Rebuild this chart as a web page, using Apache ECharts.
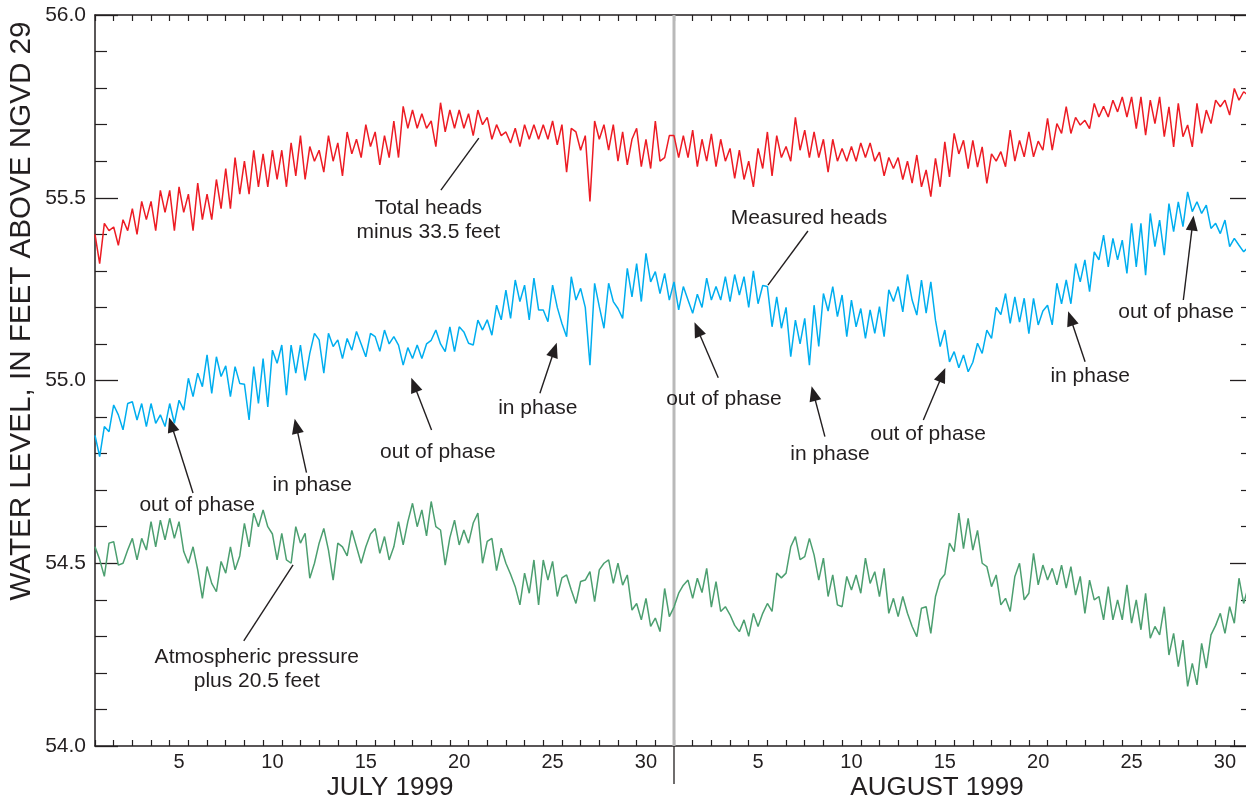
<!DOCTYPE html>
<html><head><meta charset="utf-8">
<script src="https://cdn.jsdelivr.net/npm/echarts@6/dist/echarts.min.js"></script>
<style>html,body{margin:0;padding:0;background:#fff}#c{width:1246px;height:802px}</style>
</head><body><div id="c"></div>
<script>
// time axis: days since 1 July 1999 00:00; samples every 6 hours
const STEP = 0.25;
const JULY_DAYS = 31;
const TOTAL_DAYS = 62;

const redJuly = [55.40,55.32,55.43,55.41, 55.42,55.37,55.44,55.41, 55.47,55.40,55.49,55.44, 55.49,55.41,55.52,55.46, 55.52,55.41,55.53,55.46, 55.51,55.41,55.54,55.44, 55.51,55.44,55.55,55.47, 55.58,55.47,55.61,55.51, 55.60,55.51,55.63,55.53, 55.62,55.53,55.63,55.55, 55.63,55.53,55.65,55.56, 55.67,55.55,55.64,55.60, 55.63,55.57,55.67,55.60, 55.65,55.56,55.68,55.62, 55.66,55.61,55.70,55.64, 55.68,55.59,55.67,55.61, 55.71,55.61,55.75,55.69, 55.74,55.69,55.73,55.69, 55.71,55.64,55.76,55.68, 55.74,55.69,55.74,55.69, 55.73,55.67,55.74,55.70, 55.72,55.66,55.70,55.67, 55.68,55.65,55.69,55.64, 55.70,55.66,55.70,55.66, 55.70,55.66,55.71,55.645, 55.70,55.57,55.69,55.68, 55.63,55.67,55.49,55.71, 55.66,55.70,55.63,55.70, 55.60,55.68,55.59,55.66, 55.69,55.585,55.66,55.58, 55.71,55.60,55.61,55.67];
const redAug = [55.67,55.61,55.67,55.61, 55.685,55.585,55.66,55.60, 55.675,55.585,55.66,55.60, 55.635,55.553,55.63,55.55, 55.60,55.53,55.635,55.58, 55.68,55.56,55.67,55.61, 55.64,55.60,55.72,55.63, 55.685,55.61,55.68,55.61, 55.66,55.57,55.66,55.60, 55.635,55.60,55.64,55.60, 55.65,55.61,55.65,55.60, 55.625,55.56,55.61,55.58, 55.61,55.55,55.60,55.54, 55.617,55.53,55.576,55.503, 55.608,55.53,55.653,55.557, 55.676,55.62,55.657,55.58, 55.657,55.584,55.639,55.539, 55.62,55.60,55.626,55.585, 55.685,55.60,55.657,55.612, 55.68,55.612,55.655,55.63, 55.717,55.63,55.703,55.676, 55.749,55.676,55.72,55.699, 55.712,55.689,55.758,55.721, 55.75,55.721,55.767,55.735, 55.776,55.721,55.776,55.689, 55.776,55.671,55.767,55.703, 55.776,55.667,55.749,55.639, 55.758,55.667,55.699,55.639, 55.758,55.676,55.74,55.703, 55.767,55.749,55.767,55.726, 55.799,55.767,55.79,55.78];

const blueJuly = [54.85,54.792,54.874,54.86, 54.933,54.906,54.865,54.937, 54.942,54.892,54.937,54.874, 54.937,54.883,54.906,54.874, 54.937,54.883,54.946,54.919, 55.006,54.956,55.02,54.983, 55.07,54.965,55.065,55.011, 55.04,54.956,55.038,54.992, 54.99,54.892,55.038,54.937, 55.06,54.928,55.083,55.047, 55.097,54.96,55.097,55.02, 55.097,55.0,55.074,55.129, 55.111,55.02,55.129,55.093, 55.111,55.06,55.115,55.083, 55.134,55.10,55.065,55.129, 55.12,55.08,55.138,55.10, 55.12,55.097,55.042,55.09, 55.06,55.097,55.06,55.10, 55.11,55.138,55.10,55.079, 55.147,55.079,55.147,55.133, 55.102,55.097,55.165,55.138, 55.166,55.124,55.206,55.166, 55.247,55.17,55.275,55.216, 55.261,55.166,55.28,55.193, 55.193,55.161,55.261,55.20, 55.156,55.12,55.284,55.22, 55.252,55.20,55.042,55.266, 55.202,55.143,55.266,55.216, 55.197,55.17,55.307,55.229, 55.32,55.216,55.348,55.27, 55.298,55.238,55.293,55.22];
const blueAug = [55.27,55.193,55.257,55.22, 55.184,55.236,55.20,55.28, 55.22,55.257,55.22,55.284, 55.216,55.29,55.234,55.284, 55.20,55.30,55.21,55.26, 55.257,55.147,55.229,55.143, 55.20,55.065,55.165,55.10, 55.17,55.042,55.206,55.093, 55.238,55.19,55.257,55.175, 55.234,55.12,55.22,55.147, 55.197,55.115,55.193,55.129, 55.202,55.12,55.248,55.216, 55.257,55.188,55.29,55.22, 55.179,55.275,55.184,55.27, 55.165,55.093,55.138,55.051, 55.079,55.035,55.07,55.024, 55.05,55.102,55.074,55.138, 55.115,55.20,55.18,55.238, 55.156,55.229,55.16,55.225, 55.128,55.225,55.152,55.19, 55.206,55.152,55.266,55.21, 55.275,55.21,55.32,55.27, 55.33,55.243,55.352,55.33, 55.398,55.311,55.389,55.33, 55.384,55.293,55.43,55.311, 55.43,55.288,55.457,55.366, 55.439,55.343,55.484,55.407, 55.489,55.421,55.516,55.462, 55.489,55.457,55.48,55.416, 55.43,55.402,55.439,55.366, 55.389,55.37,55.352,55.366];

const greenJuly = [54.545,54.51,54.464,54.555, 54.559,54.495,54.50,54.536, 54.568,54.509,54.568,54.536, 54.614,54.545,54.618,54.564, 54.623,54.568,54.614,54.532, 54.50,54.545,54.482,54.404, 54.491,54.445,54.422,54.505, 54.473,54.545,54.482,54.52, 54.609,54.545,54.637,54.60, 54.646,54.60,54.58,54.509, 54.582,54.509,54.50,54.60, 54.555,54.582,54.459,54.50, 54.555,54.595,54.536,54.454, 54.555,54.545,54.52,54.59, 54.545,54.50,54.545,54.58, 54.595,54.527,54.573,54.509, 54.545,54.614,54.55,54.614, 54.664,54.60,54.646,54.575, 54.669,54.60,54.591,54.495, 54.57,54.618,54.55,54.591, 54.555,54.61,54.637,54.50, 54.56,54.568,54.48,54.541, 54.50,54.47,54.436,54.386, 54.473,54.418,54.509,54.386, 54.509,54.454,54.505,54.409, 54.46,54.468,54.427,54.39, 54.45,54.454,54.477,54.395, 54.482,54.50,54.509,54.445, 54.50,54.44,54.468,54.372, 54.39,54.345,54.404,54.327, 54.35,54.313,54.431,54.354];
const greenAug = [54.38,54.418,54.44,54.454, 54.404,54.459,54.42,54.486, 54.38,54.45,54.368,54.381, 54.359,54.33,54.313,54.345, 54.30,54.363,54.327,54.363, 54.39,54.368,54.473,54.46, 54.473,54.545,54.573,54.51, 54.518,54.568,54.523,54.454, 54.514,54.409,54.468,54.386, 54.381,54.464,54.427,54.468, 54.418,54.514,54.445,54.477, 54.409,54.486,54.363,54.404, 54.354,54.409,54.363,54.327, 54.299,54.377,54.381,54.308, 54.409,54.454,54.47,54.555, 54.532,54.637,54.54,54.623, 54.536,54.59,54.50,54.491, 54.436,54.468,54.386,54.404, 54.368,54.464,54.50,54.40, 54.418,54.527,54.441,54.495, 54.454,54.486,54.441,54.495, 54.432,54.491,54.413,54.464, 54.363,54.454,54.40,54.409, 54.345,54.436,54.345,54.40, 54.345,54.441,54.336,54.40, 54.318,54.418,54.295,54.327, 54.304,54.381,54.249,54.308, 54.217,54.29,54.163,54.226, 54.167,54.281,54.213,54.304, 54.33,54.363,54.308,54.381, 54.336,54.459,54.39,54.436];

const dayLabels = [5, 10, 15, 20, 25, 30];
const yTicks = [54.0, 54.5, 55.0, 55.5, 56.0];
const monthLabels = ['JULY 1999', 'AUGUST 1999'];
const yTitle = 'WATER LEVEL, IN FEET ABOVE NGVD 29';

// annotation text anchors and leader lines, in data coordinates [day, feet]
const annotations = [
  {text:'Total heads\nminus 33.5 feet', at:[17.85,55.439], from:[18.52,55.521], to:[20.55,55.663], arrow:false},
  {text:'Measured heads', at:[38.23,55.444], from:[38.17,55.409], to:[36.03,55.261], arrow:false},
  {text:'Atmospheric pressure\nplus 20.5 feet', at:[8.66,54.2095], from:[7.965,54.2875], to:[10.605,54.4954], arrow:false},
  {text:'out of phase', at:[5.474,54.6595], from:[5.249,54.6923], to:[4.087,54.8794], arrow:true},
  {text:'in phase', at:[11.634,54.7142], from:[11.323,54.7478], to:[10.777,54.8753], arrow:true},
  {text:'out of phase', at:[18.356,54.8044], from:[18.02,54.8646], to:[17.08,54.9882], arrow:true},
  {text:'in phase', at:[23.71,54.9248], from:[23.82,54.965], to:[24.595,55.0837], arrow:true},
  {text:'out of phase', at:[33.675,54.9494], from:[33.37,55.0077], to:[32.255,55.1403], arrow:true},
  {text:'in phase', at:[39.35,54.799], from:[39.08,54.8463], to:[38.47,54.9644], arrow:true},
  {text:'out of phase', at:[44.6,54.8537], from:[44.35,54.892], to:[45.37,55.0156], arrow:true},
  {text:'in phase', at:[53.28,55.0123], from:[53.01,55.0514], to:[52.23,55.1701], arrow:true},
  {text:'out of phase', at:[57.88,55.1874], from:[58.27,55.2202], to:[58.77,55.4308], arrow:true}
];

const INK = '#231f20';
const FONT = '"Liberation Sans", Arial, Helvetica, sans-serif';
const ARROW = 'path://M6,0 L12,16 L0,16 Z';
const build = (a, b) => a.concat(b).map((v, i) => [i * STEP, v]);
const labelVals = dayLabels.map(d => d - 0.5).concat(dayLabels.map(d => JULY_DAYS + d - 0.5));
const yMin = yTicks[0], yMax = yTicks[yTicks.length - 1], yInt = yTicks[1] - yTicks[0];

const chart = echarts.init(document.getElementById('c'), null, {renderer:'canvas', width:1246, height:802});

const baseX = {
  type:'value', min:0, max:TOTAL_DAYS, interval:1,
  axisLine:{show:true, onZero:false, lineStyle:{color:INK, width:1.5}},
  axisTick:{show:true, inside:true, length:6, lineStyle:{color:INK, width:1.2}},
  splitLine:{show:false}
};
const baseY = {
  type:'value', min:yMin, max:yMax, interval:yInt,
  axisLine:{show:true, onZero:false, lineStyle:{color:INK, width:1.5}},
  axisTick:{show:true, inside:true, length:23, lineStyle:{color:INK, width:1.3}},
  minorTick:{show:true, splitNumber:5, length:12, lineStyle:{color:INK, width:1.2}},
  splitLine:{show:false}, minorSplitLine:{show:false}
};

const option = {
  animation:false,
  backgroundColor:'#ffffff',
  grid:{left:95, top:15, width:1158, height:731, containLabel:false, outerBoundsMode:'none'},
  xAxis:[
    Object.assign({}, baseX, {position:'bottom',
      axisLabel:{show:true, customValues:labelVals, margin:6, fontSize:20, fontFamily:FONT, color:INK,
        formatter: v => String(v < JULY_DAYS ? v + 0.5 : v - JULY_DAYS + 0.5)}}),
    Object.assign({}, baseX, {position:'top', axisLabel:{show:false}})
  ],
  yAxis:[
    Object.assign({}, baseY, {position:'left',
      axisLabel:{show:true, margin:9, fontSize:21, fontFamily:FONT, color:INK, formatter: v => v.toFixed(1)}}),
    Object.assign({}, baseY, {position:'right', axisLabel:{show:false}})
  ],
  series:[
    {
      name:'month boundary', type:'line', data:[[JULY_DAYS, yMin], [JULY_DAYS, yMax]],
      symbol:'none', silent:true, z:1,
      lineStyle:{color:'#b9b9b9', width:3},
      markLine:{
        silent:true, animation:false, symbol:['none','none'],
        lineStyle:{color:INK, width:1.4, type:'solid'},
        label:{show:false}, emphasis:{disabled:true},
        data: annotations.map(a => [
          {coord:a.from, symbol:'none'},
          {coord:a.to, symbol: a.arrow ? ARROW : 'none', symbolSize: a.arrow ? [12, 15] : 0}
        ])
      },
      markPoint:{
        silent:true, animation:false,
        data: annotations.map(a => ({
          coord:a.at, symbol:'circle', symbolSize:0,
          label:{show:true, position:'inside', formatter:a.text, fontSize:21, lineHeight:24.5,
                 fontFamily:FONT, color:INK, align:'center'}
        }))
      }
    },
    {name:'Total heads minus 33.5 feet', type:'line', data:build(redJuly, redAug), symbol:'none', z:3,
     lineStyle:{color:'#ed1c24', width:1.5}},
    {name:'Measured heads', type:'line', data:build(blueJuly, blueAug), symbol:'none', z:3,
     lineStyle:{color:'#00aeef', width:1.5}},
    {name:'Atmospheric pressure plus 20.5 feet', type:'line', data:build(greenJuly, greenAug), symbol:'none', z:3,
     lineStyle:{color:'#4c9f70', width:1.5}}
  ]
};
chart.setOption(option);

const xSep = chart.convertToPixel({xAxisIndex:0}, JULY_DAYS);
const yBase = chart.convertToPixel({yAxisIndex:0}, yMin);
const txt = (s, x, y, size, rot) => ({
  type:'text', x:x, y:y, rotation:rot || 0, silent:true,
  style:{text:s, font:size + 'px ' + FONT, fill:INK, align:'center', verticalAlign:'middle',
         textAlign:'center', textVerticalAlign:'middle'}
});
chart.setOption({graphic:[
  {type:'line', silent:true, shape:{x1:xSep, y1:yBase, x2:xSep, y2:yBase + 38}, style:{stroke:INK, lineWidth:1.3}},
  txt(monthLabels[0], 390, 788, 26),
  txt(monthLabels[1], 937, 788, 26),
  txt(yTitle, 22, 311, 29.6, Math.PI / 2)
]});
</script>
</body></html>
